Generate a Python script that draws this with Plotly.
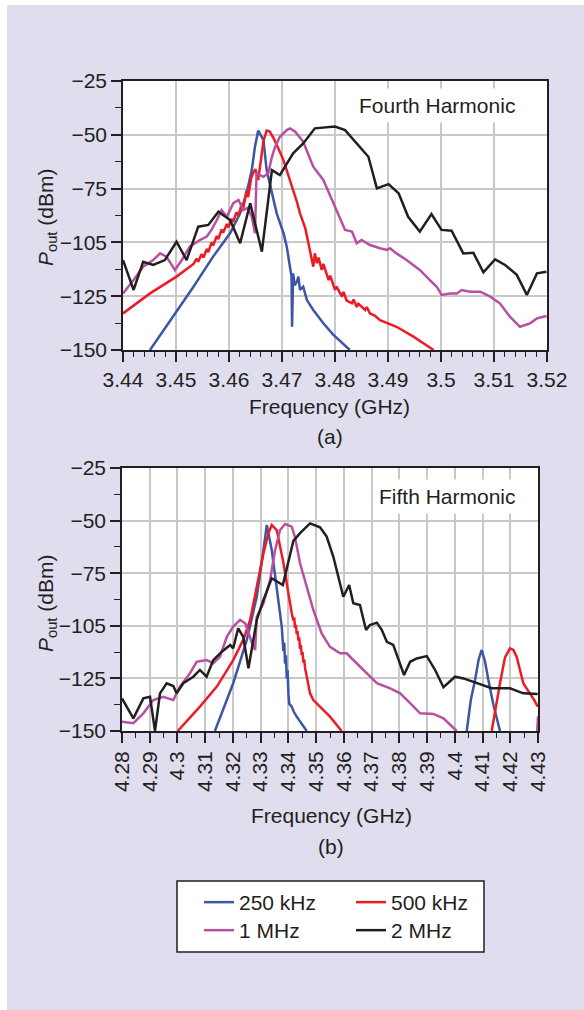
import plotly.graph_objects as go

# ---------------- data ----------------
# (a) Fourth harmonic
f4_250 = [3.4451, 3.4495, 3.4533, 3.4570, 3.4602, 3.4621, 3.4633, 3.4643, 3.4649, 3.4655,
          3.4665, 3.4671, 3.4681, 3.4690, 3.4703, 3.4709, 3.4715, 3.4718, 3.4719, 3.4721,
          3.4724, 3.4728, 3.4731, 3.4734, 3.4740, 3.4747, 3.4759, 3.4778, 3.4797, 3.4828]
p4_250 = [-150.0, -134.5, -120.6, -106.6, -95.8, -86.5, -77.2, -66.4, -55.5, -48.1,
          -52.4, -66.4, -77.2, -86.5, -95.8, -102.0, -111.3, -115.9, -139.2, -114.4,
          -120.0, -118.3, -115.9, -122.1, -120.6, -126.8, -131.4, -137.6, -143.0, -150.0]

f4_500 = [3.4400, 3.4451, 3.4501, 3.4533, 3.4539, 3.4542, 3.4548, 3.4552, 3.4558, 3.4561,
          3.4567, 3.4570, 3.4577, 3.4580, 3.4586, 3.4589, 3.4596, 3.4599, 3.4605, 3.4608,
          3.4614, 3.4618, 3.4624, 3.4627, 3.4633, 3.4636, 3.4642, 3.4646, 3.4650, 3.4655,
          3.4659, 3.4665, 3.4671, 3.4677, 3.4684, 3.4690, 3.4697, 3.4703, 3.4709, 3.4715,
          3.4721, 3.4728, 3.4734, 3.4740, 3.4744, 3.4747, 3.4750, 3.4753, 3.4756, 3.4759,
          3.4762, 3.4766, 3.4769, 3.4775, 3.4778, 3.4784, 3.4788, 3.4791, 3.4797, 3.4800,
          3.4803, 3.4810, 3.4813, 3.4816, 3.4822, 3.4832, 3.4835, 3.4841, 3.4844, 3.4857,
          3.4860, 3.4866, 3.4875, 3.4885, 3.4916, 3.4948, 3.4986]
p4_500 = [-133.0, -123.7, -115.9, -110.0, -107.5, -109.0, -105.5, -107.0, -103.0, -104.5,
          -100.0, -101.5, -97.0, -98.5, -94.0, -95.5, -91.5, -93.0, -89.0, -90.5,
          -86.0, -87.5, -82.0, -84.0, -76.0, -79.0, -70.0, -67.5, -66.0, -71.0,
          -64.0, -53.0, -48.0, -48.5, -51.5, -54.5, -58.5, -62.0, -66.4, -71.0,
          -75.6, -81.0, -86.5, -91.0, -93.5, -97.0, -100.4, -104.0, -108.0, -111.3,
          -105.1, -109.7, -107.0, -112.8, -110.0, -115.0, -117.5, -115.5, -120.0, -122.1,
          -120.5, -124.0, -125.2, -123.0, -127.0, -128.3, -126.5, -130.0, -128.5, -131.4,
          -130.0, -133.0, -134.0, -136.1, -139.2, -143.8, -150.0]

f4_1M = [3.4400, 3.4420, 3.4438, 3.4457, 3.4470, 3.4482, 3.4498, 3.4511, 3.4526, 3.4545,
         3.4558, 3.4567, 3.4577, 3.4586, 3.4596, 3.4608, 3.4618, 3.4627, 3.4635, 3.4643,
         3.4649, 3.4652, 3.4665, 3.4674, 3.4681, 3.4687, 3.4696, 3.4709, 3.4715, 3.4725,
         3.4740, 3.4759, 3.4778, 3.4797, 3.4809, 3.4819, 3.4832, 3.4841, 3.4850, 3.4866,
         3.4885, 3.4898, 3.4904, 3.4916, 3.4935, 3.4960, 3.4979, 3.4992, 3.5001, 3.5017,
         3.5030, 3.5039, 3.5055, 3.5074, 3.5093, 3.5111, 3.5130, 3.5149, 3.5168, 3.5181,
         3.5199]
p4_1M = [-123.7, -117.5, -111.3, -108.2, -105.1, -106.6, -112.8, -108.2, -102.0, -98.9,
         -97.3, -94.2, -89.6, -85.0, -88.1, -81.8, -80.3, -85.0, -84.0, -88.0,
         -95.8, -67.9, -69.5, -67.9, -60.2, -55.5, -50.9, -47.8, -47.0, -48.6,
         -53.2, -64.8, -71.0, -81.8, -88.1, -94.2, -95.0, -100.4, -98.9, -101.2,
         -102.7, -103.5, -102.7, -105.1, -108.2, -112.8, -117.5, -120.6, -124.4, -123.7,
         -123.7, -122.1, -122.9, -122.9, -125.2, -128.3, -134.5, -139.2, -137.6, -135.3,
         -134.2]

f4_2M = [3.4400, 3.4420, 3.4438, 3.4457, 3.4479, 3.4501, 3.4520, 3.4542, 3.4561, 3.4580,
         3.4602, 3.4621, 3.4640, 3.4662, 3.4681, 3.4696, 3.4721, 3.4740, 3.4762, 3.4781,
         3.4800, 3.4819, 3.4841, 3.4863, 3.4879, 3.4901, 3.4920, 3.4938, 3.4960, 3.4982,
         3.5001, 3.5020, 3.5042, 3.5061, 3.5080, 3.5102, 3.5121, 3.5143, 3.5162, 3.5181,
         3.5199]
p4_2M = [-108.2, -122.1, -109.0, -110.5, -108.2, -99.7, -108.2, -92.7, -91.9, -85.7,
         -89.6, -100.4, -81.8, -104.3, -66.4, -68.7, -58.6, -54.0, -47.0, -46.5,
         -46.2, -47.8, -54.0, -60.2, -74.9, -72.9, -77.2, -88.1, -95.0, -86.8,
         -94.2, -94.6, -105.1, -104.8, -113.9, -107.9, -110.5, -115.1, -124.4, -114.4,
         -113.6]

# (b) Fifth harmonic
f5_250 = [4.3135, 4.3201, 4.3250, 4.3286, 4.3310, 4.3322, 4.3340, 4.3358, 4.3376, 4.3382,
          4.3385, 4.3388, 4.3391, 4.3394, 4.3397, 4.3400, 4.3403, 4.3412, 4.3420, 4.3430,
          4.3446, 4.3466, None, 4.4043, 4.4058, 4.4073, 4.4086, 4.4097, 4.4109, 4.4121,
          4.4140, 4.4163]
p5_250 = [-150.0, -127.3, -106.7, -86.2, -64.0, -52.1, -64.0, -83.0, -100.4, -112.0,
          -108.0, -118.0, -114.0, -125.0, -121.0, -132.0, -137.0, -138.4, -141.0, -143.2,
          -146.5, -150.0, None, -150.0, -135.0, -125.8, -116.0, -111.5, -117.0, -125.8,
          -138.0, -150.0]

f5_500 = [4.3001, 4.3081, 4.3142, 4.3201, 4.3237, 4.3262, 4.3286, 4.3310, 4.3328, 4.3340,
          4.3358, 4.3364, 4.3370, 4.3376, 4.3382, 4.3388, 4.3394, 4.3400, 4.3406, 4.3412,
          4.3418, 4.3421, 4.3424, 4.3427, 4.3430, 4.3433, 4.3436, 4.3439, 4.3442, 4.3445,
          4.3448, 4.3451, 4.3454, 4.3457, 4.3460, 4.3466, 4.3472, 4.3478, 4.3490, 4.3514,
          4.3550, 4.3592, None, 4.4133, 4.4148, 4.4163, 4.4181, 4.4199, 4.4211, 4.4223,
          4.4235, 4.4247, 4.4260, 4.4271, 4.4285, 4.4299]
p5_500 = [-150.0, -138.4, -128.9, -116.3, -106.7, -97.2, -81.4, -65.5, -56.0, -52.1,
          -54.5, -58.0, -62.0, -66.0, -70.0, -75.0, -80.0, -85.0, -90.0, -94.0,
          -97.5, -96.0, -101.0, -99.5, -104.0, -102.5, -107.0, -105.5, -111.0, -109.0,
          -114.0, -112.5, -117.5, -116.0, -120.0, -124.2, -127.0, -132.1, -135.3, -138.4,
          -143.2, -150.0, None, -150.0, -138.0, -127.3, -115.0, -110.7, -111.5, -114.7,
          -121.0, -127.3, -130.0, -132.1, -135.0, -138.4]

f5_1M = [4.2800, 4.2841, 4.2877, 4.2913, 4.2949, 4.2985, 4.3009, 4.3045, 4.3069, 4.3105,
         4.3129, 4.3153, 4.3178, 4.3201, 4.3226, 4.3244, 4.3256, 4.3268, 4.3280, 4.3286,
         4.3310, 4.3334, 4.3352, 4.3370, 4.3388, 4.3412, 4.3424, 4.3442, 4.3466, 4.3490,
         4.3520, 4.3550, 4.3586, 4.3610, 4.3646, 4.3682, 4.3719, 4.3767, 4.3803, 4.3839,
         4.3875, 4.3923, 4.3959, 4.4007, None, 4.4297, 4.4300]
p5_1M = [-145.6, -146.3, -141.6, -135.3, -133.7, -135.3, -128.9, -122.6, -117.1, -116.3,
         -117.8, -114.7, -105.2, -100.4, -97.2, -98.8, -103.0, -108.0, -111.5, -95.7,
         -89.3, -78.2, -64.0, -54.5, -51.6, -52.9, -58.0, -70.3, -81.4, -92.5,
         -103.6, -110.0, -113.1, -113.1, -117.8, -122.6, -127.3, -129.7, -132.1, -136.8,
         -141.6, -141.9, -144.0, -150.0, None, -150.0, -143.0]

f5_2M = [4.2800, 4.2841, 4.2877, 4.2901, 4.2919, 4.2937, 4.2961, 4.2985, 4.2997, 4.3021,
         4.3057, 4.3081, 4.3105, 4.3129, 4.3160, 4.3190, 4.3201, 4.3219, 4.3237, 4.3256,
         4.3286, 4.3310, 4.3340, 4.3380, 4.3418, 4.3442, 4.3478, 4.3514, 4.3538, 4.3562,
         4.3580, 4.3598, 4.3619, 4.3634, 4.3658, 4.3680, 4.3694, 4.3719, 4.3737, 4.3755,
         4.3778, 4.3817, 4.3839, 4.3863, 4.3899, 4.3929, 4.3959, 4.4001, 4.4031, 4.4079,
         4.4133, 4.4199, 4.4247, 4.4299]
p5_2M = [-134.5, -144.0, -134.5, -133.7, -150.0, -132.1, -127.3, -128.6, -132.1, -127.3,
         -124.2, -121.0, -124.2, -116.3, -112.3, -109.1, -110.7, -101.2, -105.2, -120.2,
         -97.2, -87.7, -77.4, -80.6, -59.6, -56.0, -51.3, -53.2, -57.6, -67.2,
         -76.7, -86.2, -80.6, -89.3, -90.1, -102.0, -99.6, -98.5, -102.0, -107.6,
         -109.1, -123.4, -117.1, -115.5, -114.4, -121.0, -129.2, -124.2, -125.0, -127.3,
         -129.7, -129.7, -132.1, -132.4]

series_names = ["250 kHz", "500 kHz", "1 MHz", "2 MHz"]
series_colors = ["#3d55a5", "#ed1c24", "#b8509f", "#231f20"]

x4_ticks = [3.44, 3.45, 3.46, 3.47, 3.48, 3.49, 3.50, 3.51, 3.52]
x4_text = ["3.44", "3.45", "3.46", "3.47", "3.48", "3.49", "3.5", "3.51", "3.52"]
x5_ticks = [4.28, 4.29, 4.30, 4.31, 4.32, 4.33, 4.34, 4.35, 4.36, 4.37, 4.38, 4.39,
            4.40, 4.41, 4.42, 4.43]
x5_text = ["4.28", "4.29", "4.3", "4.31", "4.32", "4.33", "4.34", "4.35", "4.36", "4.37",
           "4.38", "4.39", "4.4", "4.41", "4.42", "4.43"]
y_ticks = [-150, -125, -100, -75, -50, -25]
y_text = ["\u2212150", "\u2212125", "\u2212105", "\u221275", "\u221250", "\u221225"]

top_sets = [(f4_250, p4_250), (f4_500, p4_500), (f4_1M, p4_1M), (f4_2M, p4_2M)]
bot_sets = [(f5_250, p5_250), (f5_500, p5_500), (f5_1M, p5_1M), (f5_2M, p5_2M)]
for a, b in top_sets + bot_sets:
    assert len(a) == len(b), (len(a), len(b))

# ---------------- figure ----------------
W, H = 584, 1010
def PX(x):
    return x / W
def PY(y):
    return 1 - y / H

FONT = "Liberation Sans, Arial, Helvetica, sans-serif"
TXT = "#231f20"
FS = 21

fig = go.Figure()
# legend rows: first row 250 kHz / 500 kHz, second row 1 MHz / 2 MHz
legend_of = ["legend", "legend", "legend2", "legend2"]
for i in range(4):
    fx, fy = top_sets[i]
    fig.add_trace(go.Scatter(x=fx, y=fy, mode="lines", xaxis="x", yaxis="y",
                             line=dict(color=series_colors[i], width=2.5),
                             name=series_names[i], showlegend=False, hoverinfo="skip"))
for i in range(4):
    fx, fy = bot_sets[i]
    fig.add_trace(go.Scatter(x=fx, y=fy, mode="lines", xaxis="x2", yaxis="y2",
                             line=dict(color=series_colors[i], width=2.5),
                             name=series_names[i], showlegend=True, legend=legend_of[i],
                             hoverinfo="skip"))

axis_common = dict(showline=True, linecolor=TXT, linewidth=1.6, mirror=True,
                   showgrid=True, gridcolor="#c9c9c9", gridwidth=1.5, zeroline=False,
                   ticks="outside", ticklen=10, tickwidth=1.6, tickcolor=TXT,
                   tickfont=dict(family=FONT, size=FS, color=TXT), automargin=False,
                   fixedrange=True)

legend_common = dict(xanchor="left", yanchor="top", orientation="h",
                     bgcolor="rgba(0,0,0,0)", borderwidth=0,
                     entrywidth=107, entrywidthmode="pixels",
                     font=dict(family=FONT, size=FS, color=TXT))

fig.update_layout(
    width=W, height=H, margin=dict(l=0, r=0, t=0, b=0),
    template="none",
    paper_bgcolor="#dfddee", plot_bgcolor="white",
    font=dict(family=FONT, size=FS, color=TXT),
    xaxis=dict(axis_common, domain=[PX(123), PX(547)], range=[3.44, 3.52], anchor="y",
               tickmode="array", tickvals=x4_ticks, ticktext=x4_text,
               minor=dict(ticks="outside", ticklen=5, tickwidth=1.4, tickcolor=TXT,
                          tickmode="linear", tick0=3.44, dtick=0.002, showgrid=False)),
    yaxis=dict(axis_common, domain=[PY(350), PY(81)], range=[-150, -25], anchor="x",
               tickmode="array", tickvals=y_ticks, ticktext=y_text,
               minor=dict(ticks="outside", ticklen=6, tickwidth=1.4, tickcolor=TXT,
                          tickmode="linear", tick0=-150, dtick=12.5, showgrid=False)),
    xaxis2=dict(axis_common, domain=[PX(122), PX(538)], range=[4.28, 4.43], anchor="y2",
                tickmode="array", tickvals=x5_ticks, ticktext=x5_text, tickangle=-90,
                minor=dict(ticks="outside", ticklen=5, tickwidth=1.4, tickcolor=TXT,
                           tickmode="linear", tick0=4.28, dtick=0.005, showgrid=False)),
    yaxis2=dict(axis_common, domain=[PY(731), PY(468)], range=[-150, -25], anchor="x2",
                tickmode="array", tickvals=y_ticks, ticktext=y_text,
                minor=dict(ticks="outside", ticklen=6, tickwidth=1.4, tickcolor=TXT,
                           tickmode="linear", tick0=-150, dtick=12.5, showgrid=False)),
    legend=dict(legend_common, x=PX(199), y=PY(882)),
    legend2=dict(legend_common, x=PX(199), y=PY(910)),
    showlegend=True,
)

shapes = [
    # white margins of the page
    dict(type="rect", xref="paper", yref="paper", x0=0, x1=PX(7), y0=0, y1=1,
         fillcolor="white", line=dict(width=0), layer="above"),
    dict(type="rect", xref="paper", yref="paper", x0=0, x1=1, y0=PY(5), y1=1,
         fillcolor="white", line=dict(width=0), layer="above"),
    # legend frame
    dict(type="rect", xref="paper", yref="paper", x0=PX(177), x1=PX(484),
         y0=PY(952), y1=PY(881), fillcolor="white",
         line=dict(color=TXT, width=1.5), layer="below"),
]
fig.update_layout(shapes=shapes)

ann = []
def text(x, y, s, **kw):
    d = dict(x=PX(x), y=PY(y), xref="paper", yref="paper", text=s, showarrow=False,
             xanchor="center", yanchor="middle",
             font=dict(family=FONT, size=FS, color=TXT))
    d.update(kw)
    ann.append(d)

text(437, 106, "Fourth Harmonic", bgcolor="white", borderpad=5)
text(447, 496, "Fifth Harmonic", bgcolor="white", borderpad=5)
text(329, 406, "Frequency (GHz)")
text(330, 437, "(a)")
text(331, 815, "Frequency (GHz)")
text(331, 846, "(b)")
text(47, 218, "<i>P</i><sub>out</sub> (dBm)", textangle=-90)
text(47, 604, "<i>P</i><sub>out</sub> (dBm)", textangle=-90)
fig.update_layout(annotations=ann)

fig.write_html("out.html")
